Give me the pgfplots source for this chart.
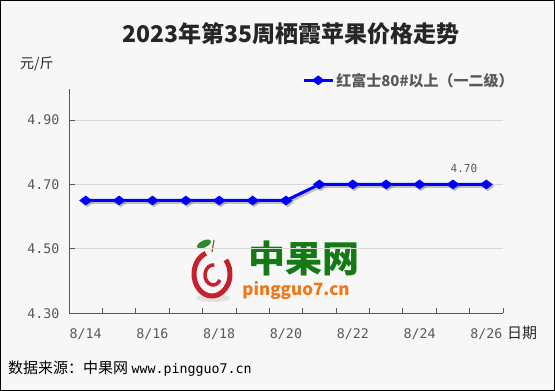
\documentclass[border=0pt]{standalone}
\usepackage{fontspec}
\setmainfont{Noto Sans CJK SC}
\newfontfamily\monof{DejaVu Sans Mono}
\usepackage{pgfplots}
\pgfplotsset{compat=1.18}
\definecolor{bg}{HTML}{F7F7F7}
\definecolor{axisgray}{HTML}{595959}
\definecolor{gridgray}{HTML}{D9D9D9}
\definecolor{txtgray}{HTML}{595959}
\definecolor{titlecol}{HTML}{262626}
\definecolor{seriesblue}{HTML}{0000FF}
\definecolor{wmgreen}{HTML}{157A16}
\definecolor{wmorange}{HTML}{F07818}
\definecolor{applered}{HTML}{C4202E}
\definecolor{leafgreen}{HTML}{2E8B2E}
\begin{document}
\begin{tikzpicture}[x=1pt,y=1pt]
\fill[bg] (0,0) rectangle (555,391);
\draw[black, line width=1pt] (0.5,0.5) rectangle (554.5,390.5);
% watermark
\fill[gray!40, opacity=0.5] (213,93) ellipse (17 and 4);
\draw[applered, line width=5pt] (212,117) ++(110:18 and 22) arc[start angle=110,end angle=400,x radius=18,y radius=22];
\draw[applered, line width=3.5pt] (213,116) ++(80:8 and 10) arc[start angle=80,end angle=330,x radius=8,y radius=10];
\draw[brown!70!black, line width=1.2pt] (212,139) -- (214,151);
\fill[leafgreen, rotate around={25:(204,147)}] (204,147) ellipse (7.5 and 3.5);
\node[font=\fontsize{37}{37}\selectfont\bfseries, text=wmgreen] at (304,133) {中果网};
\node[font=\fontsize{17}{17}\selectfont\bfseries\itshape, text=wmorange] at (296,101) {pingguo7.cn};
% titles
\node[font=\fontsize{23}{23}\selectfont\bfseries, text=titlecol] at (291,357.5) {2023年第35周栖霞苹果价格走势};
\node[font=\fontsize{14}{14}\selectfont, text=titlecol, anchor=west, inner sep=0pt] at (20,327) {元/斤};
\node[font=\fontsize{15}{15}\selectfont, text=titlecol, anchor=west, inner sep=0pt] at (507,58) {日期};
\node[font=\fontsize{15}{15}\selectfont, text=black, anchor=west, inner sep=0pt] at (8,22) {数据来源：中果网 {\monof\fontsize{13.3}{13.3}\selectfont www.pingguo7.cn}};
\begin{axis}[
  at={(69pt,77.7pt)}, anchor=south west,
  scale only axis, width=434pt, height=224pt,
  xmin=-0.5, xmax=12.5, ymin=4.3, ymax=4.995,
  axis x line*=bottom, axis y line*=left,
  axis line style={color=axisgray, line width=0.8pt},
  tick align=inside,
  major tick length=6pt, minor tick length=5pt,
  xtick={0,2,4,6,8,10,12},
  xticklabels={8/14,8/16,8/18,8/20,8/22,8/24,8/26},
  minor xtick={0.5,1.5,...,12.5},
  major x tick style={draw=none},
  minor x tick style={color=axisgray, line width=0.8pt},
  major y tick style={color=axisgray, line width=0.8pt},
  ytick={4.3,4.5,4.7,4.9},
  ymajorgrids,
  grid style={color=gridgray, line width=0.8pt},
  /pgf/number format/assume math mode=true,
  yticklabel style={/pgf/number format/fixed, /pgf/number format/fixed zerofill, /pgf/number format/precision=2, font=\monof\fontsize{13.3}{13.3}\selectfont, text=txtgray, xshift=-6pt},
  xticklabel style={font=\monof\fontsize{13.3}{13.3}\selectfont, text=txtgray, yshift=-12pt},
  legend style={draw=none, fill=none, at={(axis description cs:0.537,1.04)}, anchor=west, font=\fontsize{15}{15}\selectfont\bfseries, text=axisgray, inner sep=0pt},
  legend image code/.code={\draw[mark repeat=2,mark phase=2,#1] plot coordinates {(0pt,0pt) (14.5pt,0pt) (29pt,0pt)};},
  clip=false,
]
\addplot[gray, opacity=0.45, line width=3pt, mark=diamond*, mark size=4pt, mark options={rotate=90}, xshift=1.5pt, yshift=-2pt, forget plot] coordinates {
(0,4.65) (1,4.65) (2,4.65) (3,4.65) (4,4.65) (5,4.65) (6,4.65)
(7,4.70) (8,4.70) (9,4.70) (10,4.70) (11,4.70) (12,4.70)};
\addplot[seriesblue, line width=3pt, mark=diamond*, mark size=4pt, mark options={rotate=90, fill=seriesblue}] coordinates {
(0,4.65) (1,4.65) (2,4.65) (3,4.65) (4,4.65) (5,4.65) (6,4.65)
(7,4.70) (8,4.70) (9,4.70) (10,4.70) (11,4.70) (12,4.70)};
\addlegendentry{红富士80\#以上（一二级）}
\node[font=\monof\fontsize{11}{11}\selectfont, text=txtgray] at (axis cs:11,4.70) [xshift=11pt, yshift=16pt] {4.70};
\end{axis}
\end{tikzpicture}
\end{document}
